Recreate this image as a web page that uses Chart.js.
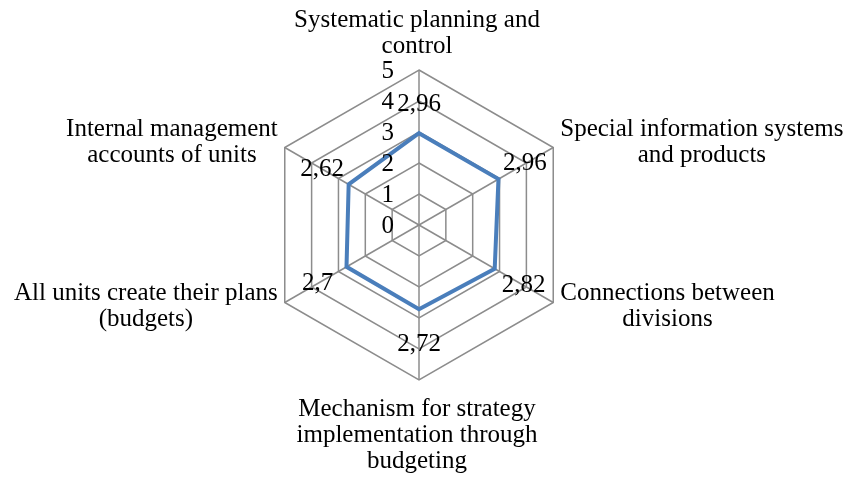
<!DOCTYPE html>
<html>
<head>
<meta charset="utf-8">
<script src="https://cdn.jsdelivr.net/npm/chart.js@4.4.1/dist/chart.umd.min.js"></script>
<style>
  html, body { margin: 0; padding: 0; background: #fff; }
  #wrap { width: 850px; height: 477px; position: relative; }
</style>
</head>
<body>
<div id="wrap"><canvas id="chart"></canvas></div>
<script>
const categories = [
  ['Systematic planning and', 'control'],
  ['Special information systems', 'and products'],
  ['Connections between', 'divisions'],
  ['Mechanism for strategy', 'implementation through', 'budgeting'],
  ['All units create their plans', '(budgets)'],
  ['Internal management', 'accounts of units']
];
const values = [2.96, 2.96, 2.82, 2.72, 2.7, 2.62];
const tickLabels = ['0', '1', '2', '3', '4', '5'];

const FONT = '25px "Liberation Serif", "Times New Roman", serif';
const LINE_H = 26;

// ticks, value labels and category labels drawn off the radial scale
const labelPlugin = {
  id: 'labels',
  afterDraw(chart) {
    const ctx = chart.ctx;
    const r = chart.scales.r;
    ctx.save();
    ctx.font = FONT;
    ctx.fillStyle = '#000';

    // tick labels to the left of the vertical axis
    ctx.textAlign = 'right';
    ctx.textBaseline = 'middle';
    tickLabels.forEach(function (t) {
      const p = r.getPointPositionForValue(0, Number(t));
      ctx.fillText(t, r.xCenter - 25, p.y + 1);
    });

    // value labels
    ctx.textAlign = 'center';
    values.forEach(function (v, i) {
      const d = r.getDistanceFromCenterForValue(v);
      const a = r.getIndexAngle(i);
      const off = 29 + 3 * (1 - Math.cos(a));
      const p = r.getPointPosition(i, d + off);
      ctx.fillText(String(v).replace('.', ','), p.x, p.y);
    });

    // category labels
    categories.forEach(function (lines, i) {
      const p = r.getPointPosition(i, r.drawingArea);
      const dx = Math.cos(p.angle), dy = Math.sin(p.angle);
      if (Math.abs(dx) < 0.01) {
        ctx.textAlign = 'center';
        ctx.textBaseline = 'alphabetic';
        if (dy < 0) {
          const last = p.y - 17.5;
          lines.forEach(function (s, k) {
            ctx.fillText(s, p.x - 2, last - (lines.length - 1 - k) * LINE_H);
          });
        } else {
          const first = p.y + 36;
          lines.forEach(function (s, k) {
            ctx.fillText(s, p.x - 2, first + k * LINE_H);
          });
        }
      } else {
        const w = Math.max.apply(null, lines.map(function (s) { return ctx.measureText(s).width; }));
        const cx = dx > 0 ? p.x + 7 + w / 2 : p.x - 7 - w / 2;
        const cy = p.y + (dy < 0 ? -5.5 : 4);
        ctx.textAlign = 'center';
        ctx.textBaseline = 'middle';
        lines.forEach(function (s, k) {
          ctx.fillText(s, cx, cy + (k - (lines.length - 1) / 2) * LINE_H);
        });
      }
    });
    ctx.restore();
  }
};

new Chart(document.getElementById('chart'), {
  type: 'radar',
  data: {
    labels: categories,
    datasets: [{
      label: 'Score',
      data: values,
      borderColor: '#4a7ebb',
      backgroundColor: 'rgba(0,0,0,0)',
      borderWidth: 4,
      pointRadius: 0,
      fill: false,
      tension: 0
    }]
  },
  options: {
    responsive: true,
    maintainAspectRatio: false,
    animation: false,
    layout: { padding: { top: 70, bottom: 97, left: 0, right: 11 } },
    plugins: { legend: { display: false }, tooltip: { enabled: false } },
    scales: {
      r: {
        min: 0,
        max: 5,
        ticks: { display: false, stepSize: 1 },
        grid: { color: '#8c8c8c', lineWidth: 1.5 },
        angleLines: { color: '#8c8c8c', lineWidth: 1.5 },
        pointLabels: { display: false }
      }
    }
  },
  plugins: [labelPlugin]
});
</script>
</body>
</html>
